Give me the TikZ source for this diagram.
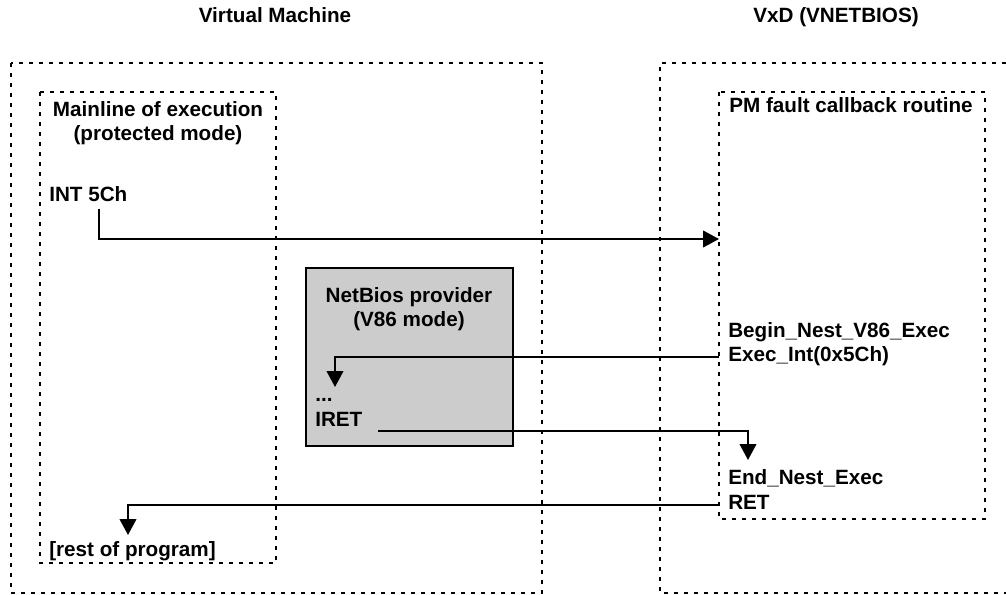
\documentclass[tikz,border=0pt]{standalone}
\usepackage{fontspec}
\setmainfont{Liberation Sans}
\usetikzlibrary{arrows.meta}

\tikzset{
  dotbox/.style={line width=1.5pt, dash pattern=on 3pt off 4.5pt},
  provider/.style={draw, line width=1.5pt, fill=black!20},
  lbl/.style={inner sep=0pt, anchor=base west},
  head/.style={inner sep=0pt, anchor=base},
  twoline/.style={inner sep=0pt, align=center},
  flow/.style={line width=1.5pt, -{Triangle[length=12pt,width=12.5pt]}},
}

\begin{document}
\begin{tikzpicture}[x=0.75pt, y=-0.75pt, font=\fontsize{15.5}{18}\selectfont\bfseries]
\useasboundingbox (0,0) rectangle (1006,595);

% Titles
\node[head] (vmtitle)  at (275,23) {Virtual Machine};
\node[head] (vxdtitle) at (836,23) {VxD (VNETBIOS)};

% Outer boxes
\draw[dotbox] (11,63) rectangle (542,593);                  % virtual machine
\draw[dotbox] (1006,63) -- (660,63) -- (660,593) -- (1006,593); % VxD

% Inner boxes
\draw[dotbox] (40,92) rectangle (276,563);    % mainline
\draw[dotbox] (719,92) rectangle (985,519);   % callback
\draw[provider] (306,268) rectangle (513,446); % NetBios provider

% Box captions
\node[twoline] (mainline) at (158,122.7) {Mainline of execution\\(protected mode)};
\node[inner sep=0pt, anchor=base] (pmfault) at (851,113) {PM fault callback routine};
\node[twoline] (netbios) at (409,308.7) {NetBios provider\\(V86 mode)};

% Code lines
\node[lbl] (int5ch)  at (49,202)  {INT 5Ch};
\node[lbl] (beginx)  at (728,337) {Begin\_Nest\_V86\_Exec};
\node[lbl] (execint) at (728,361) {Exec\_Int(0x5Ch)};
\node[lbl] (dots)    at (315,401) {...};
\node[lbl] (iret)    at (315,426) {IRET};
\node[lbl] (endx)    at (728,484) {End\_Nest\_Exec};
\node[lbl] (ret)     at (728,509) {RET};
\node[lbl] (rest)    at (49,556)  {[rest of program]};

% Connector ends
\coordinate (intout)  at (99,209);
\coordinate (pmin)    at (719,239);
\coordinate (execout) at (719,357);
\coordinate (v86in)   at (335,387);
\coordinate (iretout) at (378,431);
\coordinate (endin)   at (748,460);
\coordinate (retout)  at (719,505);
\coordinate (restin)  at (128,535);

% Flow of control
\draw[flow] (intout) |- (pmin);
\draw[flow] (execout) -| (v86in);
\draw[flow] (iretout) -| (endin);
\draw[flow] (retout) -| (restin);

\end{tikzpicture}
\end{document}
